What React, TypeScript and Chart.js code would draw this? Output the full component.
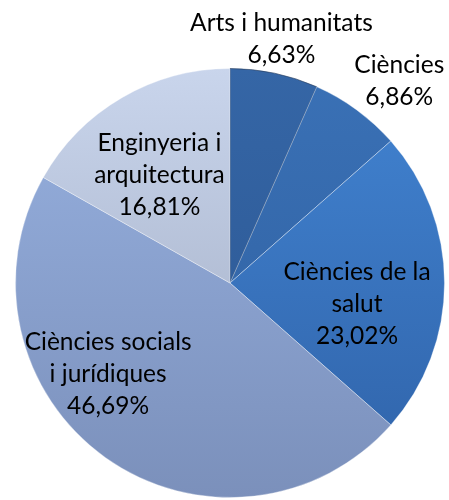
import React, { useEffect, useRef } from "react";
import { Chart, registerables } from "chart.js";

Chart.register(...registerables);

const categories: string[][] = [
  ["Arts i humanitats"],
  ["Ciències"],
  ["Ciències de la", "salut"],
  ["Ciències socials", "i jurídiques"],
  ["Enginyeria i", "arquitectura"],
];
const values: number[] = [6.63, 6.86, 23.02, 46.69, 16.81];
const valueLabels: string[] = ["6,63%", "6,86%", "23,02%", "46,69%", "16,81%"];

const topColors = ["#3566A6", "#3A71B6", "#4284D2", "#97B1E0", "#C9D5EC"];
const bottomColors = ["#2A5590", "#2E5E9E", "#2F62A8", "#7B90BB", "#9EA9C0"];
const borderColors = ["rgba(40,60,90,0.6)", "rgba(255,255,255,0.35)", "rgba(255,255,255,0.35)", "rgba(255,255,255,0.35)", "rgba(255,255,255,0.35)"];

// label placement: radial factor (of outer radius) and angular shift (degrees)
const labelRadius = [1.16, 1.23, 0.6, 0.71, 0.6];
const labelShift = [0, 3.7, 9.3, 17.7, -3];

const FONT = '24.5px Lato, "Open Sans", sans-serif';
const LINE_H = 32;

const labelPlugin = {
  id: "sliceLabels",
  afterDatasetsDraw(chart: any) {
    const ctx = chart.ctx;
    const meta = chart.getDatasetMeta(0);
    ctx.save();
    ctx.font = FONT;
    ctx.fillStyle = "#000";
    ctx.textAlign = "center";
    ctx.textBaseline = "middle";
    meta.data.forEach((arc: any, i: number) => {
      const p = arc.getProps(["x", "y", "startAngle", "endAngle", "outerRadius"], true);
      const mid = (p.startAngle + p.endAngle) / 2 + (labelShift[i] * Math.PI) / 180;
      const r = p.outerRadius * labelRadius[i];
      const cx = p.x + Math.cos(mid) * r;
      const cy = p.y + Math.sin(mid) * r;
      const lines = [...categories[i], valueLabels[i]];
      const start = cy - ((lines.length - 1) * LINE_H) / 2;
      lines.forEach((t, k) => ctx.fillText(t, cx, start + k * LINE_H));
    });
    ctx.restore();
  },
};

export default function App() {
  const ref = useRef<HTMLCanvasElement>(null);
  useEffect(() => {
    document.body.style.margin = "0";
    const canvas = ref.current!;
    const chart = new Chart(canvas, {
      type: "pie",
      data: {
        labels: categories.map((c) => c.join(" ")),
        datasets: [
          {
            data: values,
            backgroundColor: (c: any) => {
              const area = c.chart.chartArea;
              if (!area) return topColors[c.dataIndex];
              const g = c.chart.ctx.createLinearGradient(0, area.top, 0, area.bottom);
              g.addColorStop(0, topColors[c.dataIndex]);
              g.addColorStop(1, bottomColors[c.dataIndex]);
              return g;
            },
            borderColor: borderColors,
            borderWidth: 1,
          },
        ],
      },
      options: {
        animation: false,
        responsive: false,
        maintainAspectRatio: false,
        layout: { padding: { left: 13, right: 2, top: 68, bottom: 2 } },
        plugins: { legend: { display: false }, tooltip: { enabled: false } },
      },
      plugins: [labelPlugin],
    });
    return () => chart.destroy();
  }, []);
  return (
    <div style={{ width: 449, height: 500, background: "#fff" }}>
      <canvas ref={ref} width={449} height={500} />
    </div>
  );
}
